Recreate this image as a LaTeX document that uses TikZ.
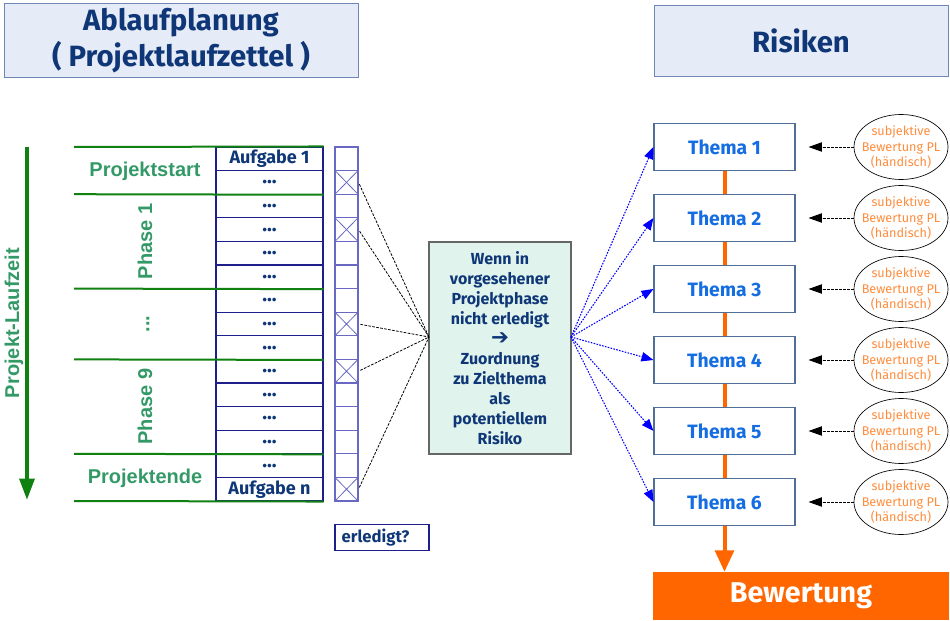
\documentclass[tikz,border=0pt]{standalone}
\usepackage{fontspec}
\setmainfont{Fira Sans}
\newfontfamily\arialfont{Liberation Sans}
\newfontfamily\symfont{DejaVu Sans}
\usetikzlibrary{positioning,calc}
\usetikzlibrary{arrows.meta,shapes.geometric}
\definecolor{PlanNavy}{RGB}{15,55,120}
\definecolor{PlanGrid}{RGB}{30,30,140}
\definecolor{PlanBox}{RGB}{105,105,195}
\definecolor{PlanGreen}{RGB}{16,128,16}
\definecolor{PlanLabel}{RGB}{51,153,102}
\definecolor{HeadFill}{RGB}{230,236,247}
\definecolor{HeadLine}{RGB}{110,135,180}
\definecolor{MintFill}{RGB}{224,243,236}
\definecolor{ThemeBlue}{RGB}{20,110,225}
\definecolor{ThemeLine}{RGB}{80,110,150}
\definecolor{RiskOrange}{RGB}{255,102,0}
\definecolor{SoftOrange}{RGB}{255,140,60}
\newcommand\taskdots{\fontsize{15}{14}\selectfont...}
\tikzset{
  head/.style={draw=HeadLine,fill=HeadFill,minimum height=53.25pt,align=center,
    text=PlanNavy,font=\bfseries\fontsize{22}{27}\selectfont},
  cell/.style={draw=PlanGrid,line width=0.8pt,minimum width=80.25pt,minimum height=17.7pt,
    inner sep=0pt,text=PlanNavy,font=\bfseries\fontsize{13.5}{14}\selectfont},
  chk/.style={draw=PlanBox,line width=0.8pt,minimum width=17.25pt,minimum height=17.7pt,inner sep=0pt},
  phase/.style={text=PlanLabel,font=\arialfont\bfseries\fontsize{15}{16}\selectfont},
  thema/.style={draw=ThemeLine,line width=0.8pt,fill=white,minimum width=105.75pt,minimum height=35.25pt,
    text=ThemeBlue,font=\bfseries\fontsize{14.5}{16}\selectfont},
  pltext/.style={align=center,text=SoftOrange,font=\fontsize{9.5}{11.8}\selectfont},
  pl/.style={ellipse,draw=black,line width=0.5pt,minimum width=70.5pt,minimum height=48.75pt,inner sep=0pt,
    label={[pltext]center:{subjektive\\Bewertung PL\\(händisch)}}},
  link/.style={draw=black,line width=0.6pt,dash pattern=on 2pt off 1pt},
  pick/.style={draw=blue,line width=0.8pt,dash pattern=on 1.2pt off 1pt,-{Triangle[length=9pt,width=7pt]}},
  rate/.style={draw=black,line width=0.6pt,dash pattern=on 2pt off 1pt,
    -{Triangle[length=10pt,width=7pt]},shorten >=9.75pt},
  chain/.style={draw=RiskOrange,line width=3pt},
  green/.style={draw=PlanGreen,line width=1.5pt},
}

\begin{document}
\begin{tikzpicture}[x=0.75pt,y=-0.75pt]
\useasboundingbox (0,0) rectangle (950,621);
% headers
\node[head,minimum width=265.5pt] (plan) at (181,40.5) {Ablaufplanung\\( Projektlaufzettel )};
\node[head,minimum width=220.5pt] (risk) at (801,40.5) {Risiken};
% time axis
\coordinate (ltop) at (27,147);
\coordinate (lbot) at (27,500);
\draw[green,line width=3pt,-{Triangle[length=16pt,width=11pt]}] (ltop) -- (lbot);
\node[phase,rotate=90] (runtime) at (14,323) {Projekt-Laufzeit};
% task list and check boxes
\foreach \i/\txt in {1/Aufgabe 1,2/\taskdots,3/\taskdots,4/\taskdots,5/\taskdots,6/\taskdots,
    7/\taskdots,8/\taskdots,9/\taskdots,10/\taskdots,11/\taskdots,12/\taskdots,13/\taskdots,
    14/\taskdots,15/Aufgabe n} {
  \node[cell] (c\i) at (269.5,{147+23.6*(\i-0.5)}) {\txt};
  \node[chk] (b\i) at (346.5,{147+23.6*(\i-0.5)}) {};
}
\foreach \i in {2,4,8,10,15}
  \draw[PlanBox,line width=0.6pt] (b\i.north west) -- (b\i.south east) (b\i.north east) -- (b\i.south west);
\node[draw=PlanGrid,line width=0.8pt,minimum height=17.25pt,text width=60.5pt,inner xsep=5pt,align=left,
  text=PlanNavy,font=\bfseries\fontsize{12.5}{13}\selectfont] (done) at (382,537.5) {erledigt?};
% phases
\draw[green] (74,147) -- (c1.north east);
\draw[green] (74,194.2) -- (c2.south east);
\draw[green] (74,288.6) -- (c6.south east);
\draw[green] (74,359.4) -- (c9.south east);
\draw[green] (74,453.8) -- (c13.south east);
\draw[green] (74,501) -- (c15.south east);
\node[phase] (pstart) at (145,171) {Projektstart};
\node[phase,rotate=90] (p1) at (145,241.4) {Phase 1};
\node[phase,rotate=90] (pdots) at (148,324) {...};
\node[phase,rotate=90] (p9) at (145,406.6) {Phase 9};
\node[phase] (pend) at (145,478) {Projektende};
% rule
\node[draw=black!60,line width=0.8pt,fill=MintFill,minimum width=106.5pt,minimum height=159pt,align=center,
  text=PlanNavy,font=\bfseries\fontsize{12}{15}\selectfont] (mid) at (500,348)
  {Wenn in\\vorgesehener\\Projektphase\\nicht erledigt\\{\symfont\fontsize{16}{15}\selectfont ➔}\\Zuordnung\\zu Zielthema\\als\\potentiellem\\Risiko};
\coordinate (hubL) at (429,337);
\coordinate (hubR) at (571,337);
\draw[link,shorten <=1.5pt] (b2.east) -- (hubL);
\draw[link,shorten <=1.5pt] (b4.east) -- (hubL);
\draw[link,shorten <=1.5pt] (b8.east) -- (hubL);
\draw[link,shorten <=1.5pt] (b10.east) -- (hubL);
\draw[link,shorten <=1.5pt] (b15.east) -- (hubL);
% risks
\node[thema] (t1) at (724.5,147) {Thema 1};
\node[thema] (t2) at (724.5,218) {Thema 2};
\node[thema] (t3) at (724.5,289) {Thema 3};
\node[thema] (t4) at (724.5,360) {Thema 4};
\node[thema] (t5) at (724.5,431) {Thema 5};
\node[thema] (t6) at (724.5,502) {Thema 6};
\node[fill=RiskOrange,minimum width=222pt,minimum height=36pt,text=white,
  font=\bfseries\fontsize{21.5}{24}\selectfont] (bew) at (801,596) {Bewertung};
\draw[chain] (t1) -- (t2);
\draw[chain] (t2) -- (t3);
\draw[chain] (t3) -- (t4);
\draw[chain] (t4) -- (t5);
\draw[chain] (t5) -- (t6);
\draw[chain,-{Triangle[length=16pt,width=14pt]}] (t6) -- (t6 |- bew.north);
\draw[pick] (hubR) -- (t1.west);
\draw[pick] (hubR) -- (t2.west);
\draw[pick] (hubR) -- (t3.west);
\draw[pick] (hubR) -- (t4.west);
\draw[pick] (hubR) -- (t5.west);
\draw[pick] (hubR) -- (t6.west);
% ratings
\node[pl] (e1) at (901,147) {};
\node[pl] (e2) at (901,218) {};
\node[pl] (e3) at (901,289) {};
\node[pl] (e4) at (901,360) {};
\node[pl] (e5) at (901,431) {};
\node[pl] (e6) at (901,502) {};
\draw[rate] (e1) -- (t1);
\draw[rate] (e2) -- (t2);
\draw[rate] (e3) -- (t3);
\draw[rate] (e4) -- (t4);
\draw[rate] (e5) -- (t5);
\draw[rate] (e6) -- (t6);
\end{tikzpicture}
\end{document}
